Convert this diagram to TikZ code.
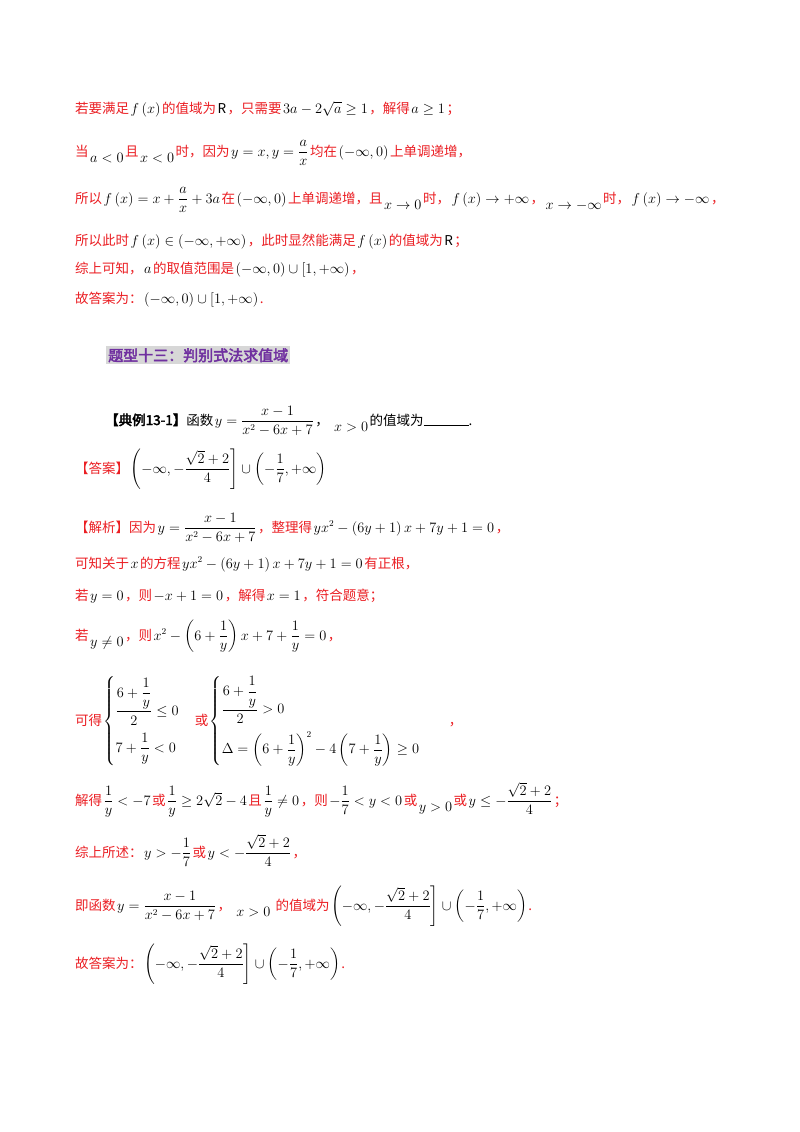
\documentclass[tikz,border=0pt]{standalone}
\usepackage{amsmath,amssymb}
\usepackage{fontspec}
\setmainfont{Noto Sans CJK SC}
\newfontfamily\cjkb{Noto Sans CJK SC}[FakeBold=3]
\definecolor{myred}{RGB}{235,30,35}
\definecolor{mypurple}{RGB}{112,48,160}
\definecolor{mygray}{RGB}{215,215,215}
\newcommand\M[1]{\hspace{1.5pt}\textcolor{black}{$#1$}\hspace{1.5pt}}
\newcommand\Lo[1]{\raisebox{-6pt}{\M{#1}}}
\tikzset{line/.style={anchor=base west,inner sep=0pt,text=myred,font=\fontsize{13.5}{16}\selectfont}}
\begin{document}
\begin{tikzpicture}[x=1pt,y=-1pt]
\useasboundingbox[fill=white] (0,0) rectangle (800,1132);
\node[line] (l1) at (75,113) {若要满足\M{f\left(x\right)}的值域为\M{\mathrm{R}}，只需要\M{3a-2\sqrt{a}\ge 1}，解得\M{a\ge1}；};
\node[line] (l2) at (75,156) {当\Lo{a<0}且\Lo{x<0}时，因为\M{y=x,y=\dfrac{a}{x}}均在\M{\left(-\infty,0\right)}上单调递增，};
\node[line] (l3) at (75,203) {所以\M{f\left(x\right)=x+\dfrac{a}{x}+3a}在\M{\left(-\infty,0\right)}上单调递增，且\Lo{x\to0}时，\M{f\left(x\right)\to+\infty}，\Lo{x\to-\infty}时，\M{f\left(x\right)\to-\infty}，};
\node[line] (l4) at (75,245) {所以此时\M{f\left(x\right)\in\left(-\infty,+\infty\right)}，此时显然能满足\M{f\left(x\right)}的值域为\M{\mathrm{R}}；};
\node[line] (l5) at (75,273) {综上可知，\M{a}的取值范围是\M{\left(-\infty,0\right)\cup\left[1,+\infty\right)}，};
\node[line] (l6) at (75,303) {故答案为：\M{\left(-\infty,0\right)\cup\left[1,+\infty\right)}.};
\node[fill=mygray,inner sep=2pt,anchor=base west,text=mypurple,font=\fontsize{15}{17}\cjkb] (h) at (106,361) {题型十三：判别式法求值域};
\node[line,text=black] (ex) at (105,425) {{\cjkb 【典例13-1】}函数\M{y=\dfrac{x-1}{x^2-6x+7}}，\;\Lo{x>0}的值域为\rule[-1pt]{45pt}{0.8pt}.};
\node[line] (ans) at (75,473) {【答案】\M{\left(-\infty,-\dfrac{\sqrt2+2}{4}\right]\cup\left(-\dfrac17,+\infty\right)}};
\node[line] (j1) at (75,532) {【解析】因为\M{y=\dfrac{x-1}{x^2-6x+7}}，整理得\M{yx^2-\left(6y+1\right)x+7y+1=0}，};
\node[line] (j2) at (75,568) {可知关于\M{x}的方程\M{yx^2-\left(6y+1\right)x+7y+1=0}有正根，};
\node[line] (j3) at (75,600) {若\M{y=0}，则\M{-x+1=0}，解得\M{x=1}，符合题意；};
\node[line] (j4) at (75,640) {若\Lo{y\ne0}，则\M{x^2-\left(6+\dfrac1y\right)x+7+\dfrac1y=0}，};
\node[line] (j5) at (75,725) {可得\M{\begin{cases}\dfrac{6+\dfrac1y}{2}\le0\\[12pt] 7+\dfrac1y<0\end{cases}}或\M{\begin{cases}\dfrac{6+\dfrac1y}{2}>0\\[12pt] \Delta=\left(6+\dfrac1y\right)^2-4\left(7+\dfrac1y\right)\ge0\end{cases}}\quad ，};
\node[line] (j6) at (75,805) {解得\M{\dfrac1y<-7}或\M{\dfrac1y\ge2\sqrt2-4}且\M{\dfrac1y\ne0}，则\M{-\dfrac17<y<0}或\Lo{y>0}或\M{y\le-\dfrac{\sqrt2+2}{4}}；};
\node[line] (j7) at (75,857) {综上所述：\M{y>-\dfrac17}或\M{y<-\dfrac{\sqrt2+2}{4}}，};
\node[line] (j8) at (75,910) {即函数\M{y=\dfrac{x-1}{x^2-6x+7}}，\;\Lo{x>0}\;的值域为\M{\left(-\infty,-\dfrac{\sqrt2+2}{4}\right]\cup\left(-\dfrac17,+\infty\right)}.};
\node[line] (j9) at (75,968) {故答案为：\M{\left(-\infty,-\dfrac{\sqrt2+2}{4}\right]\cup\left(-\dfrac17,+\infty\right)}.};
\end{tikzpicture}
\end{document}
